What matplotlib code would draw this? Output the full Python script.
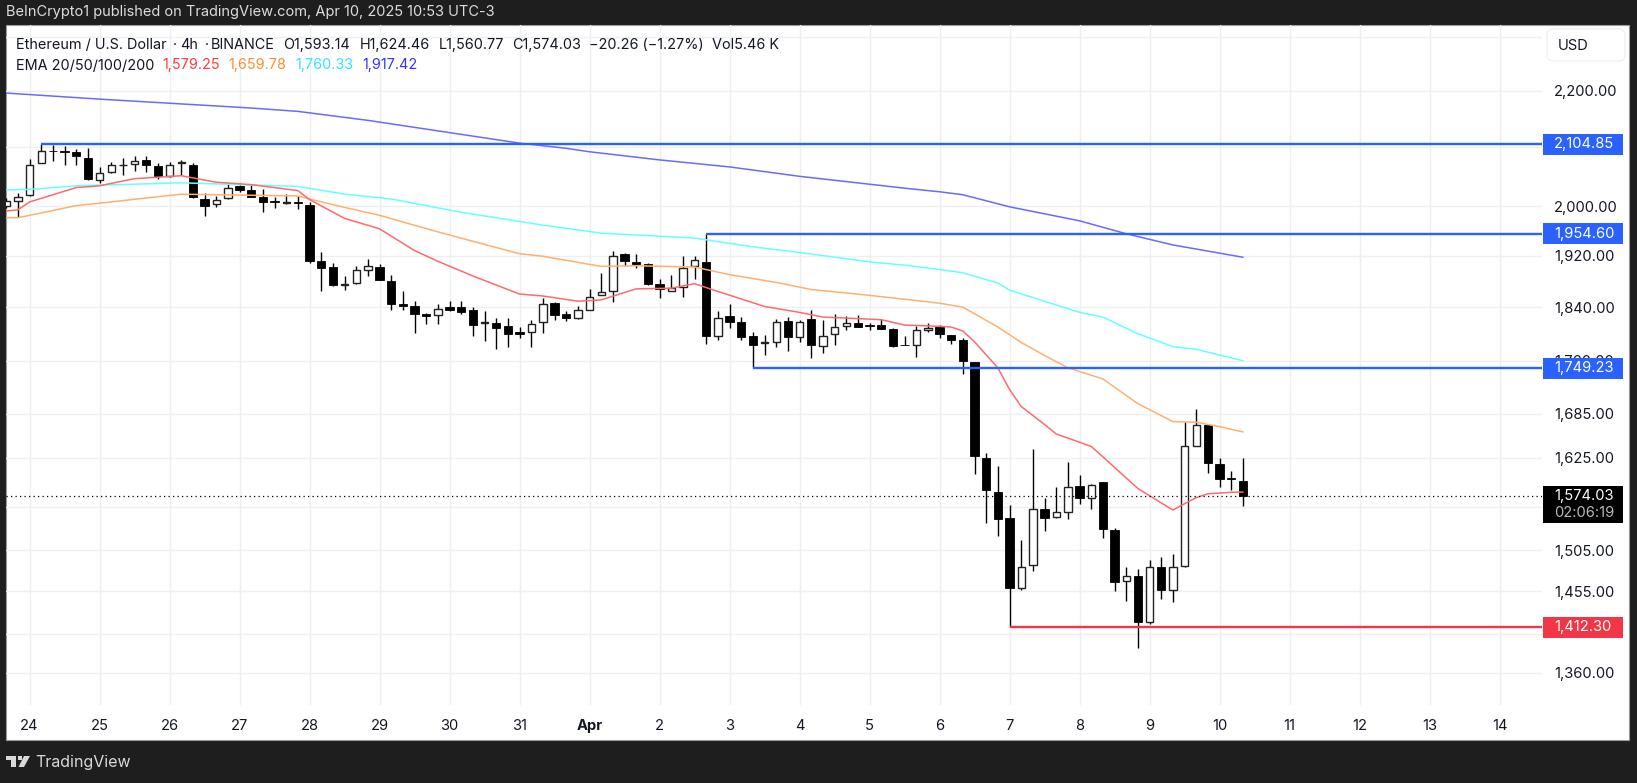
import numpy as np
import matplotlib
matplotlib.use('Agg')
from matplotlib import pyplot as plt
from matplotlib.patches import Rectangle, Polygon, FancyBboxPatch
from matplotlib.ticker import FixedLocator, NullLocator

plt.rcParams['font.family'] = ['Inter', 'DejaVu Sans']

#--------------------------------------------------------------------------#
# data: 4h candles, first one is two bars before Mar 24
#--------------------------------------------------------------------------#

first_bar = -2

opens = [2001, 2008, 2019, 2072, 2094, 2093, 2091, 2082, 2043, 2057,
         2069, 2071, 2078, 2068, 2050, 2072, 2069, 2012, 2003, 2013,
         2033, 2027, 2015, 2008, 2006, 2007, 2002, 1912, 1902, 1874,
         1877, 1898, 1902, 1880, 1845, 1842, 1830, 1828, 1840, 1840,
         1835, 1816, 1816, 1811, 1802, 1802, 1817, 1846, 1829, 1823,
         1835, 1858, 1864, 1922, 1910, 1907, 1876, 1865, 1871, 1903,
         1910, 1797, 1826, 1817, 1796, 1786, 1788, 1819, 1795, 1822,
         1782, 1799, 1811, 1816, 1813, 1813, 1807, 1784, 1783, 1806,
         1810, 1798, 1791, 1759, 1624, 1579, 1546, 1459, 1487, 1557,
         1547, 1554, 1587, 1572, 1592, 1531, 1467, 1473, 1419, 1485,
         1456, 1486, 1641, 1669, 1616, 1598, 1593.14]
highs = [2013, 2022, 2080, 2104.85, 2103, 2102, 2096, 2098, 2066, 2074,
         2082, 2084, 2084, 2073, 2074, 2077, 2072, 2022, 2017, 2038,
         2036, 2036, 2028, 2015, 2020, 2017, 2007, 1925, 1909, 1888,
         1903, 1915, 1906, 1889, 1864, 1849, 1831, 1845, 1849, 1850,
         1840, 1834, 1823, 1823, 1810, 1820, 1854, 1848, 1834, 1842,
         1868, 1892, 1927, 1924, 1922, 1909, 1884, 1889, 1919, 1920,
         1954.60, 1834, 1844, 1825, 1802, 1798, 1822, 1825, 1821, 1835,
         1821, 1829, 1827, 1828, 1816, 1822, 1808, 1796, 1812, 1816,
         1813, 1798, 1793, 1759, 1631, 1614, 1562, 1518, 1637, 1572,
         1586, 1619, 1602, 1590, 1593, 1533, 1485, 1482, 1493, 1497,
         1501, 1674, 1691, 1669, 1625, 1607, 1624.46]
lows = [1997, 1982, 2017, 2072, 2076, 2070, 2070, 2044, 2039, 2055,
        2052, 2059, 2057, 2045, 2049, 2053, 2013, 1984, 1998, 2012,
        2023, 2015, 1990, 1997, 2003, 1995, 1908, 1865, 1873, 1866,
        1875, 1888, 1881, 1836, 1836, 1801, 1815, 1815, 1834, 1830,
        1797, 1789, 1778, 1781, 1794, 1781, 1801, 1821, 1819, 1822,
        1835, 1858, 1848, 1903, 1900, 1874, 1854, 1865, 1856, 1884,
        1785, 1790, 1808, 1790, 1749.23, 1769, 1781, 1774, 1787, 1764,
        1771, 1784, 1806, 1810, 1805, 1807, 1780, 1783, 1766, 1803,
        1794, 1785, 1741, 1603, 1539, 1523, 1412.30, 1457, 1480, 1529,
        1546, 1544, 1564, 1557, 1521, 1455, 1443, 1388, 1416, 1446,
        1442, 1484, 1641, 1604, 1586, 1582, 1560.77]
closes = [2008, 2016, 2069, 2093, 2093, 2091, 2084, 2045, 2056, 2069,
          2070, 2076, 2069, 2050, 2070, 2074, 2016, 2001, 2011, 2031,
          2027, 2016, 2007, 2007, 2007, 2005, 1912, 1901, 1874, 1876,
          1897, 1903, 1882, 1845, 1841, 1829, 1827, 1837, 1836, 1833,
          1813, 1817, 1809, 1800, 1799, 1814, 1844, 1828, 1823, 1836,
          1856, 1863, 1919, 1912, 1906, 1876, 1867, 1869, 1901, 1913,
          1797, 1824, 1817, 1795, 1783, 1787, 1818, 1795, 1818, 1784,
          1796, 1810, 1816, 1810, 1811, 1807, 1782, 1783, 1806, 1809,
          1799, 1790, 1760, 1627, 1582, 1544, 1459, 1484, 1557, 1546,
          1553, 1586, 1572, 1589, 1532, 1466, 1473, 1419, 1485, 1456,
          1485, 1640, 1669, 1617, 1597, 1597, 1574.03]

#--------------------------------------------------------------------------#
# moving averages, read at the bars where the line bends
#--------------------------------------------------------------------------#

ema20_bars = [-2, -1, 0, 4, 6, 9, 13, 16, 19, 23, 24, 27, 30, 33, 35, 38, 42, 44, 47, 49,
              52, 55, 57, 59, 63, 66, 68, 73, 75, 78, 79, 80, 81, 83, 84, 85, 87, 88, 91, 92,
              95, 98, 99, 100, 101, 102, 103, 104]
ema20 = [1992, 1994, 2007, 2031, 2034, 2046, 2051, 2040, 2036, 2026, 2011, 1980, 1963, 1928, 1911, 1888, 1860, 1857, 1849, 1851,
         1868, 1869, 1876, 1864, 1841, 1832, 1825, 1821, 1813, 1811, 1810, 1804, 1788, 1750, 1719, 1695, 1670, 1657, 1640, 1626,
         1584, 1556, 1564, 1572, 1577, 1578, 1579, 1579.25]

ema50_bars = [-2, -1, 4, 6, 13, 16, 23, 24, 27, 30, 35, 42, 44, 49, 52, 57, 60, 64, 67, 72,
              75, 78, 80, 83, 85, 87, 89, 92, 95, 98, 100, 102, 104]
ema50 = [1981, 1981, 2001, 2005, 2020, 2019, 2017, 2012, 1998, 1985, 1958, 1923, 1919, 1903, 1904, 1902, 1890, 1878, 1867, 1858,
         1852, 1846, 1840, 1810, 1787, 1768, 1750, 1734, 1699, 1674, 1673, 1667, 1659.78]

ema100_bars = [-2, 0, 4, 13, 23, 27, 31, 37, 44, 49, 57, 62, 66, 72, 75, 78, 80, 83, 84, 90,
               92, 95, 98, 100, 104]
ema100 = [2027, 2028, 2034, 2039, 2033, 2020, 2012, 1990, 1969, 1956, 1948, 1934, 1925, 1910, 1905, 1898, 1893, 1877, 1866, 1832,
          1825, 1800, 1781, 1777, 1760.33]

ema200_bars = [-2, 6, 19, 23, 29, 42, 46, 48, 54, 60, 66, 75, 78, 80, 84, 90, 94, 98, 104]
ema200 = [2196, 2185, 2169, 2163, 2147, 2107, 2098, 2092, 2078, 2066, 2050, 2030, 2024, 2019, 1999, 1976, 1955, 1937, 1917.42]

#--------------------------------------------------------------------------#
# axis values and drawn levels
#--------------------------------------------------------------------------#

price_ticks = [2300, 2200, 2100, 2000, 1920, 1840, 1760, 1685, 1625, 1560, 1505, 1455, 1405, 1360]
hidden_ticks = [2300, 2100, 1560, 1405]  # sit under the USD box and the price tags
day_ticks = list(range(22))
day_labels = ['24', '25', '26', '27', '28', '29', '30', '31', 'Apr', '2', '3', '4', '5', '6',
              '7', '8', '9', '10', '11', '12', '13', '14']

level_prices = [2104.85, 1954.60, 1749.23, 1412.30]
level_start_bars = [1, 58, 62, 84]
level_colors = ['#2962ff', '#2962ff', '#2962ff', '#f23645']
last_price = 1574.03

W, H = 1637, 783
GRID = '#eeeff2'
TEXT = '#131722'

#--------------------------------------------------------------------------#

def fig_text(fig, px, py, s, **kw):
    return fig.text(px / W, 1 - py / H, s, va='center', **kw)

def fig_rect(fig, x0, y0, x1, y1, **kw):
    fig.add_artist(Rectangle((x0 / W, 1 - y1 / H), (x1 - x0) / W, (y1 - y0) / H,
                             transform=fig.transFigure, **kw))

def price_tag(fig, ax, price, label, color, height=21):
    # price -> pixel row goes through the axis scale
    py = H - ax.transData.transform((0, price))[1]
    fig_rect(fig, 1543, py - height / 2, 1623, py + height / 2, facecolor=color, edgecolor='none', zorder=5)
    fig_text(fig, 1554, py, label, color='white', fontsize=10.6, zorder=6)

def candles(ax):
    o, h, l, c = map(np.array, (opens, highs, lows, closes))
    days = (np.arange(len(o)) + first_bar) / 6
    up = c >= o
    ax.vlines(days, l, h, colors='black', linewidth=1.0, zorder=2)
    ax.bar(days[up], (c - o)[up], bottom=o[up], width=0.105, facecolor='white',
           edgecolor='#222222', linewidth=1.0, zorder=3)
    ax.bar(days[~up], (o - c)[~up], bottom=c[~up], width=0.115, facecolor='black',
           edgecolor='black', linewidth=0.6, zorder=3)

def tv_logo(fig):
    t = fig.transFigure
    pts = lambda p: [(x / W, 1 - y / H) for x, y in p]
    c = '#d9d9d9'
    fig.add_artist(Polygon(pts([(6, 756), (16, 756), (16, 767), (11, 767), (11, 760), (6, 760)]),
                           transform=t, facecolor=c, edgecolor='none'))
    fig.add_artist(Polygon(pts([(24, 756), (30, 756), (24, 767), (18.5, 767)]),
                           transform=t, facecolor=c, edgecolor='none'))
    fig_rect(fig, 17.5, 756, 21.5, 760, facecolor=c, edgecolor='none')

#--------------------------------------------------------------------------#

fig = plt.figure(figsize=(W / 100, H / 100), dpi=100, facecolor='#1e1e1e')

# white panel behind the chart
fig_rect(fig, 6, 25, 1629, 740, facecolor='white', edgecolor='#9a9a9a', linewidth=0.8, zorder=-1)

ax = fig.add_axes([6 / W, 1 - 705 / H, (1542 - 6) / W, (705 - 25) / H])
ax.patch.set_alpha(0)
ax.set_yscale('log')
ax.set_ylim(1324.5, 2323)
ax.set_xlim(-0.336, 21.607)

for s in ax.spines.values():
    s.set_visible(False)

ax.yaxis.tick_right()
ax.yaxis.set_major_locator(FixedLocator(price_ticks))
ax.yaxis.set_minor_locator(NullLocator())
ax.set_yticklabels(['' if v in hidden_ticks else f'{v:,.2f}' for v in price_ticks])
ax.set_xticks(day_ticks)
ax.set_xticklabels(day_labels)
ax.tick_params(axis='y', length=0, pad=8.6, labelsize=10.6, labelcolor=TEXT)
ax.tick_params(axis='x', length=0, pad=9.8, labelsize=10.6, labelcolor=TEXT)
ax.get_xticklabels()[8].set_fontweight('bold')
ax.grid(True, color=GRID, linewidth=1.0, zorder=0)
ax.set_axisbelow(True)

candles(ax)

ax.plot(np.array(ema200_bars) / 6, ema200, color='#6a6aff', linewidth=1.1, zorder=4)
ax.plot(np.array(ema100_bars) / 6, ema100, color='#66ffff', linewidth=1.1, zorder=4)
ax.plot(np.array(ema50_bars) / 6, ema50, color='#ffb070', linewidth=1.1, zorder=4)
ax.plot(np.array(ema20_bars) / 6, ema20, color='#ff6a6a', linewidth=1.1, zorder=4)

for price, start, col in zip(level_prices, level_start_bars, level_colors):
    ax.hlines(price, start / 6, ax.get_xlim()[1], colors=col, linewidth=1.7, zorder=5)

ax.axhline(last_price, color='black', linewidth=0.9, linestyle=(0, (1, 2.6)), zorder=4)

fig.canvas.draw()

# price tags on the right scale
for price, col in zip(level_prices, level_colors):
    price_tag(fig, ax, price, f'{price:,.2f}', col)

py_last = H - ax.transData.transform((0, last_price))[1]
fig_rect(fig, 1543, py_last - 10, 1623, py_last + 27, facecolor='black', edgecolor='none', zorder=5)
fig_text(fig, 1554, py_last, f'{last_price:,.2f}', color='white', fontsize=10.6, zorder=6)
fig_text(fig, 1554, py_last + 17, '02:06:19', color='#b8b8b8', fontsize=10.6, zorder=6)

# USD box
fig.add_artist(FancyBboxPatch((1547 / W, 1 - 61 / H), 78 / W, 32 / H,
                              boxstyle='round,pad=0,rounding_size=0.004', mutation_aspect=2,
                              transform=fig.transFigure, facecolor='white', edgecolor='#eeeeee',
                              linewidth=0.8, zorder=5))
fig_text(fig, 1558, 46, 'USD', color=TEXT, fontsize=10.6, zorder=6)

# header and footer
fig_text(fig, 6, 12, 'BeInCrypto1 published on TradingView.com, Apr 10, 2025 10:53 UTC-3',
         color='#dcdcdc', fontsize=10.5)
tv_logo(fig)
fig_text(fig, 35, 762, 'TradingView', color='#d9d9d9', fontsize=11.5)

# legend lines
for px, s in zip([16, 173, 180, 205, 211, 283, 360, 438.6, 512.5, 589, 712],
                 ['Ethereum / U.S. Dollar', '·', '4h', '·', 'BINANCE', 'O1,593.14', 'H1,624.46',
                  'L1,560.77', 'C1,574.03', '−20.26 (−1.27%)', 'Vol5.46 K']):
    fig_text(fig, px, 45, s, color=TEXT, fontsize=10.4, zorder=6)

fig_text(fig, 16, 65.5, 'EMA 20/50/100/200', color=TEXT, fontsize=10.4, zorder=6)
for px, s, col in zip([162, 228, 295, 362],
                      ['1,579.25', '1,659.78', '1,760.33', '1,917.42'],
                      ['#ff3b3b', '#ff8c2e', '#2fe6ff', '#3434ff']):
    fig_text(fig, px, 65.5, s, color=col, fontsize=10.4, zorder=6)

fig.savefig('out.png', dpi=100, facecolor=fig.get_facecolor())
